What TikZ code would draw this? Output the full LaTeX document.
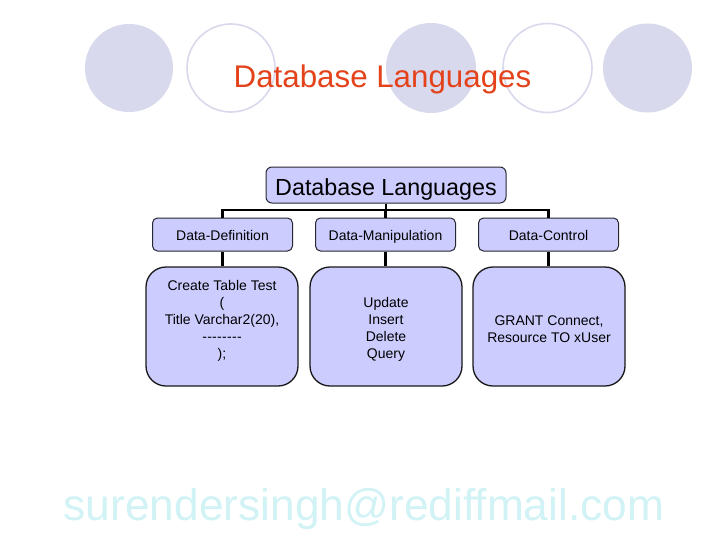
\documentclass[tikz,border=0pt]{standalone}
\usepackage{fontspec}
\setmainfont{Liberation Sans}
\definecolor{circ}{RGB}{217,217,238}
\definecolor{boxfill}{RGB}{204,204,255}
\definecolor{titlered}{RGB}{228,66,26}
\definecolor{mailcyan}{RGB}{210,243,245}
\definecolor{boxline}{RGB}{40,40,50}
\begin{document}
\begin{tikzpicture}[x=1pt,y=-1pt,
  fcirc/.style={fill=circ,draw=none},
  ocirc/.style={draw=circ,line width=1.6pt,fill=white},
  topbox/.style={draw=boxline,fill=boxfill,line width=1pt,rounded corners=6pt,minimum width=240pt,minimum height=36pt,inner sep=0pt,text height=20pt,text depth=0pt,font=\fontsize{23.3}{27}\selectfont},
  midbox/.style={draw=boxline,fill=boxfill,line width=1pt,rounded corners=5pt,minimum width=140pt,minimum height=33pt,inner sep=0pt,text height=11pt,text depth=0pt,font=\fontsize{14}{17}\selectfont},
  botbox/.style={draw=black!90,fill=boxfill,line width=1.3pt,rounded corners=20pt,minimum width=152pt,minimum height=119pt,inner sep=0pt,align=center,font=\fontsize{14}{17}\selectfont},
  conn/.style={draw=black,line width=2.2pt}]
\useasboundingbox (0,0) rectangle (728,546);
\fill[white] (0,0) rectangle (728,546);
% decorative circles
\path[fcirc] (129,68) circle (44);
\path[ocirc] (231,68) circle (44);
\path[fcirc] (431,68) circle (45);
\path[ocirc] (547.5,68) circle (44.5);
\path[fcirc] (647.5,68) circle (44.5);
% title
\node[anchor=base,text=titlered,font=\fontsize{31.3}{36}\selectfont,inner sep=0pt] (title) at (382.5,87) {Database Languages};
% tree
\node[topbox] (top) at (386,185) {Database Languages};
\node[midbox] (dd) at (222.5,234.5) {Data-Definition};
\node[midbox] (dm) at (385.5,234.5) {Data-Manipulation};
\node[midbox] (dc) at (548.5,234.5) {Data-Control};
\node[botbox] (ddb) at (222,326.5) {Create Table Test\\(\\Title Varchar2(20),\\-\kern0.3pt-\kern0.3pt-\kern0.3pt-\kern0.3pt-\kern0.3pt-\kern0.3pt-\kern0.3pt-\\);\rule[-15pt]{0pt}{15pt}};
\node[botbox] (dmb) at (386,326.5) {\rule{0pt}{16.3pt}Update\\Insert\\Delete\\Query};
\node[botbox] (dcb) at (549,326.5) {\rule{0pt}{14.3pt}GRANT Connect,\\Resource TO xUser};
\coordinate (j) at (386,210);
\draw[conn] (top.south) -- (j);
\draw[conn] (dd.north) |- (j) -| (dc.north);
\draw[conn] (j) -| (dm.north);
\draw[conn] (dd.south) -- (dd.south |- ddb.north);
\draw[conn] (dm.south) -- (dm.south |- dmb.north);
\draw[conn] (dc.south) -- (dc.south |- dcb.north);
% email
\node[anchor=base,text=mailcyan,font=\fontsize{44.3}{50}\selectfont,inner sep=0pt] (mail) at (364,520) {surendersingh@rediffmail.com};
\end{tikzpicture}
\end{document}
